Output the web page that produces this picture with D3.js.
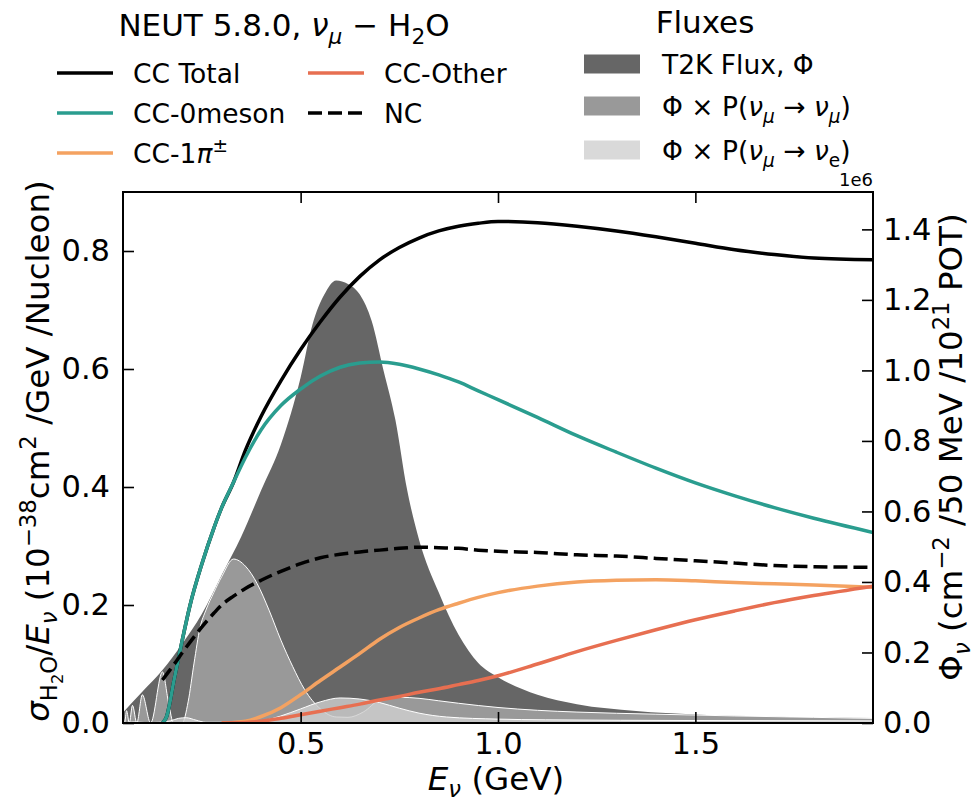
<!DOCTYPE html>
<html>
<head>
<meta charset="utf-8">
<script src="https://d3js.org/d3.v7.min.js"></script>
<style>
  body { margin: 0; background: #fff; }
  svg text { font-family: 'DejaVu Sans', sans-serif; fill: #000; white-space: pre; }
</style>
</head>
<body>
<svg id="chart"></svg>
<script>
// cross sections, 1e-38 cm^2 / GeV / nucleon
const xsecEnergy = [0.15, 0.16, 0.18, 0.20, 0.22, 0.25, 0.28, 0.30, 0.33, 0.36, 0.40, 0.45, 0.50, 0.55, 0.60, 0.65, 0.70, 0.75, 0.80, 0.85, 0.90, 0.95, 1.00, 1.10, 1.20, 1.30, 1.40, 1.50, 1.60, 1.70, 1.80, 1.95];
const ccTotal = [0.0, 0.01, 0.075, 0.14, 0.2, 0.27, 0.33, 0.365, 0.408, 0.462, 0.52, 0.58, 0.633, 0.68, 0.722, 0.757, 0.785, 0.806, 0.822, 0.834, 0.842, 0.847, 0.85, 0.848, 0.842, 0.834, 0.824, 0.813, 0.802, 0.794, 0.788, 0.785];
const cc0meson = [0.0, 0.01, 0.075, 0.14, 0.2, 0.27, 0.33, 0.365, 0.408, 0.45, 0.497, 0.538, 0.566, 0.588, 0.603, 0.61, 0.612, 0.608, 0.60, 0.59, 0.578, 0.563, 0.548, 0.518, 0.487, 0.459, 0.432, 0.407, 0.385, 0.365, 0.347, 0.323];
const cc1pi = [null, null, null, null, null, null, null, 0, 0.001, 0.003, 0.011, 0.026, 0.048, 0.072, 0.095, 0.118, 0.142, 0.162, 0.178, 0.192, 0.203, 0.213, 0.221, 0.232, 0.239, 0.242, 0.243, 0.241, 0.238, 0.236, 0.234, 0.23];
const ccOther = [null, null, null, null, null, null, null, 0, 0.0003, 0.001, 0.003, 0.008, 0.014, 0.02, 0.026, 0.032, 0.039, 0.045, 0.052, 0.058, 0.065, 0.072, 0.08, 0.1, 0.121, 0.14, 0.158, 0.175, 0.19, 0.204, 0.216, 0.232];
const ncTotal = [0.073, 0.082, 0.10, 0.119, 0.137, 0.163, 0.186, 0.2, 0.215, 0.228, 0.242, 0.257, 0.27, 0.28, 0.286, 0.29, 0.293, 0.296, 0.298, 0.297, 0.296, 0.293, 0.291, 0.289, 0.285, 0.283, 0.279, 0.275, 0.271, 0.267, 0.265, 0.264];

// fluxes, 1e6 / cm^2 / 50 MeV / 1e21 POT
const fluxEnergy = [0.05, 0.10, 0.15, 0.20, 0.25, 0.30, 0.35, 0.40, 0.45, 0.50, 0.53, 0.56, 0.59, 0.62, 0.65, 0.68, 0.71, 0.74, 0.77, 0.80, 0.85, 0.90, 0.95, 1.00, 1.10, 1.20, 1.35, 1.50, 1.70, 1.95];
const fluxT2K = [0.03, 0.09, 0.15, 0.225, 0.31, 0.42, 0.53, 0.66, 0.79, 0.98, 1.13, 1.215, 1.255, 1.245, 1.215, 1.14, 1.00, 0.86, 0.66, 0.52, 0.37, 0.25, 0.17, 0.13, 0.08, 0.053, 0.034, 0.024, 0.018, 0.014];
const numuEnergy = [0.05, 0.054, 0.059, 0.066, 0.074, 0.085, 0.099, 0.12, 0.15, 0.165, 0.178, 0.20, 0.215, 0.23, 0.245, 0.26, 0.28, 0.30, 0.33, 0.36, 0.39, 0.42, 0.45, 0.48, 0.51, 0.55, 0.59, 0.62, 0.66, 0.70, 0.75, 0.80, 0.85, 0.90, 1.00, 1.10, 1.20, 1.40, 1.60, 1.80, 1.95];
const fluxNumu = [0.025, 0.0, 0.035, 0.0, 0.05, 0.0, 0.08, 0.0, 0.145, 0.06, 0.0, 0.0, 0.06, 0.17, 0.27, 0.32, 0.37, 0.415, 0.465, 0.445, 0.395, 0.32, 0.235, 0.16, 0.095, 0.04, 0.017, 0.016, 0.032, 0.065, 0.073, 0.07, 0.063, 0.056, 0.044, 0.036, 0.031, 0.025, 0.020, 0.016, 0.013];
const nueEnergy = [0.05, 0.08, 0.11, 0.14, 0.17, 0.19, 0.21, 0.235, 0.26, 0.30, 0.35, 0.40, 0.45, 0.50, 0.55, 0.60, 0.65, 0.70, 0.75, 0.80, 0.87, 1.00, 1.12, 1.50, 1.95];
const fluxNue = [0.0, 0.003, 0.001, 0.002, 0.006, 0.013, 0.015, 0.008, 0.002, 0.002, 0.003, 0.006, 0.02, 0.04, 0.06, 0.071, 0.068, 0.058, 0.042, 0.028, 0.017, 0.011, 0.009, 0.007, 0.006];

const xTicks = [0.5, 1.0, 1.5];
const xsecTicks = [0.0, 0.2, 0.4, 0.6, 0.8];
const fluxTicks = [0.0, 0.2, 0.4, 0.6, 0.8, 1.0, 1.2, 1.4];

const it = {italic: true};
const sub = {shift: 0.25, scale: 0.7};
const subIt = {shift: 0.25, scale: 0.7, italic: true};
const subSub = {shift: 0.42, scale: 0.5};
const sup = {shift: -0.4, scale: 0.7};

// mathtext-ish labels made of tspans
function appendMath(textSel, parts, size) {
  let prevShift = 0;
  parts.forEach(([str, opt = {}]) => {
    const shift = (opt.shift || 0) * size;
    textSel.append('tspan')
      .attr('dy', shift - prevShift)
      .attr('font-size', size * (opt.scale || 1))
      .attr('font-style', opt.italic ? 'italic' : null)
      .text(str);
    prevShift = shift;
  });
}

class XsecFluxPlot {
  constructor(_config) {
    this.config = {
      parentElement: _config.parentElement,
      containerWidth: _config.containerWidth || 975,
      containerHeight: _config.containerHeight || 802,
      margin: _config.margin || {top: 192, right: 102, bottom: 79, left: 123},
      tickFontSize: _config.tickFontSize || 30.5,
      labelFontSize: _config.labelFontSize || 32.5,
      titleFontSize: _config.titleFontSize || 31,
      legendFontSize: _config.legendFontSize || 26.5,
      tickLength: 11
    };
    this.initVis();
  }

  initVis() {
    let vis = this;

    vis.width = vis.config.containerWidth - vis.config.margin.left - vis.config.margin.right;
    vis.height = vis.config.containerHeight - vis.config.margin.top - vis.config.margin.bottom;

    vis.xScale = d3.scaleLinear().range([0, vis.width]);
    vis.yScale = d3.scaleLinear().range([vis.height, 0]);
    vis.yFluxScale = d3.scaleLinear().range([vis.height, 0]);

    const tl = -vis.config.tickLength;
    vis.xAxis = d3.axisBottom(vis.xScale).tickValues(xTicks).tickSizeInner(tl).tickSizeOuter(0)
        .tickPadding(9).tickFormat(d3.format('.1f'));
    vis.xAxisTop = d3.axisTop(vis.xScale).tickValues(xTicks).tickSizeInner(tl).tickSizeOuter(0)
        .tickFormat('');
    vis.yAxis = d3.axisLeft(vis.yScale).tickValues(xsecTicks).tickSizeInner(tl).tickSizeOuter(0)
        .tickPadding(13).tickFormat(d3.format('.1f'));
    vis.yAxisRight = d3.axisRight(vis.yFluxScale).tickValues(fluxTicks).tickSizeInner(tl).tickSizeOuter(0)
        .tickPadding(10).tickFormat(d3.format('.1f'));

    vis.svg = d3.select(vis.config.parentElement)
        .attr('width', vis.config.containerWidth)
        .attr('height', vis.config.containerHeight);

    vis.svg.append('defs').append('clipPath')
        .attr('id', 'plot-clip')
      .append('rect')
        .attr('width', vis.width)
        .attr('height', vis.height);

    vis.chart = vis.svg.append('g')
        .attr('transform', `translate(${vis.config.margin.left},${vis.config.margin.top})`);

    vis.fluxG = vis.chart.append('g').attr('clip-path', 'url(#plot-clip)');
    vis.linesG = vis.chart.append('g').attr('clip-path', 'url(#plot-clip)');

    vis.xAxisG = vis.chart.append('g').attr('class', 'axis x-axis')
        .attr('transform', `translate(0,${vis.height})`);
    vis.xAxisTopG = vis.chart.append('g').attr('class', 'axis x-axis-top');
    vis.yAxisG = vis.chart.append('g').attr('class', 'axis y-axis');
    vis.yAxisRightG = vis.chart.append('g').attr('class', 'axis y-axis-right')
        .attr('transform', `translate(${vis.width},0)`);
  }

  updateVis() {
    let vis = this;

    vis.lineSeries = [
      {key: 'CC Total', values: ccTotal, color: '#000000', dash: null},
      {key: 'CC-0meson', values: cc0meson, color: '#2a9d8f', dash: null},
      {key: 'CC-1pi', values: cc1pi, color: '#f4a261', dash: null},
      {key: 'CC-Other', values: ccOther, color: '#e76f51', dash: null},
      {key: 'NC', values: ncTotal, color: '#000000', dash: '14,6'}
    ].map(s => ({
      ...s,
      points: xsecEnergy.map((e, i) => ({e: e, v: s.values[i]})).filter(d => d.v !== null)
    }));

    vis.fluxSeries = [
      {key: 'T2K', energy: fluxEnergy, values: fluxT2K, fill: '#666666', opacity: 1, edge: null},
      {key: 'numu', energy: numuEnergy, values: fluxNumu, fill: '#999999', opacity: 1, edge: '#ffffff'},
      {key: 'nue', energy: nueEnergy, values: fluxNue, fill: '#cfcfcf', opacity: 0.8, edge: '#ffffff'}
    ].map(s => ({
      ...s,
      points: s.energy.map((e, i) => ({e: e, v: s.values[i]}))
    }));

    vis.xScale.domain(d3.extent(fluxEnergy));
    vis.yScale.domain([0, 0.9]);
    vis.yFluxScale.domain([0, d3.max(fluxT2K) * 1.2]);

    vis.renderVis();
  }

  renderVis() {
    let vis = this;
    const tfs = vis.config.tickFontSize;
    const fs = vis.config.labelFontSize;
    const lfs = vis.config.legendFontSize;

    const area = d3.area()
        .x(d => vis.xScale(d.e))
        .y0(vis.yFluxScale(0))
        .y1(d => vis.yFluxScale(d.v))
        .curve(d3.curveMonotoneX);
    const edge = d3.line()
        .x(d => vis.xScale(d.e))
        .y(d => vis.yFluxScale(d.v))
        .curve(d3.curveMonotoneX);

    vis.fluxSeries.forEach(s => {
      vis.fluxG.append('path')
          .datum(s.points)
          .attr('d', area)
          .attr('fill', s.fill)
          .attr('fill-opacity', s.opacity);
      if (s.edge) {
        vis.fluxG.append('path')
            .datum(s.points)
            .attr('d', edge)
            .attr('fill', 'none')
            .attr('stroke', s.edge)
            .attr('stroke-width', 1);
      }
    });

    const line = d3.line()
        .x(d => vis.xScale(d.e))
        .y(d => vis.yScale(d.v))
        .curve(d3.curveMonotoneX);

    vis.linesG.selectAll('.xsec')
        .data(vis.lineSeries, d => d.key)
      .join('path')
        .attr('class', 'xsec')
        .attr('d', d => line(d.points))
        .attr('fill', 'none')
        .attr('stroke', d => d.color)
        .attr('stroke-width', 3.5)
        .attr('stroke-dasharray', d => d.dash);

    // axes
    [vis.xAxisG.call(vis.xAxis), vis.xAxisTopG.call(vis.xAxisTop),
     vis.yAxisG.call(vis.yAxis), vis.yAxisRightG.call(vis.yAxisRight)].forEach(g => {
      g.attr('font-size', tfs).attr('font-family', 'DejaVu Sans');
      g.select('.domain').remove();
      g.selectAll('.tick line').attr('stroke-width', 1.6);
    });

    vis.chart.append('rect')
        .attr('width', vis.width)
        .attr('height', vis.height)
        .attr('fill', 'none')
        .attr('stroke', '#000')
        .attr('stroke-width', 2);

    vis.chart.append('text')
        .attr('x', vis.width)
        .attr('y', -6)
        .attr('text-anchor', 'end')
        .attr('font-size', 18)
        .text('1e6');

    // axis labels
    const xLabel = vis.chart.append('text')
        .attr('x', vis.width / 2 - 2)
        .attr('y', vis.height + 67)
        .attr('text-anchor', 'middle');
    appendMath(xLabel, [['E', it], ['ν', {shift: 0.2, scale: 0.7, italic: true}], [' (GeV)']], fs);

    const yLabel = vis.svg.append('text')
        .attr('transform', 'translate(49,451) rotate(-90)')
        .attr('text-anchor', 'middle');
    appendMath(yLabel, [['σ', it], ['H', sub], ['2', subSub], ['O', sub], ['/'], ['E', it], ['ν', subIt],
      [' (10'], ['−38', sup], ['cm'], ['2', sup], [' /GeV /Nucleon)']], fs);

    const yLabelRight = vis.svg.append('text')
        .attr('transform', 'translate(962,447) rotate(-90)')
        .attr('text-anchor', 'middle');
    appendMath(yLabelRight, [['Φ'], ['ν', subIt], [' (cm'], ['−2', sup], [' /50 MeV /10'], ['21', sup], [' POT)']], fs);

    // cross-section legend
    const title = vis.svg.append('text')
        .attr('x', 284).attr('y', 36)
        .attr('text-anchor', 'middle');
    appendMath(title, [['NEUT 5.8.0, '], ['ν', it], ['μ', subIt], [' − H'], ['2', sub], ['O']], vis.config.titleFontSize);

    const legendItems = [
      {series: vis.lineSeries[0], x: 57, y: 73, label: [['CC Total']]},
      {series: vis.lineSeries[1], x: 57, y: 113, label: [['CC-0meson']]},
      {series: vis.lineSeries[2], x: 57, y: 153, label: [['CC-1'], ['π', it], ['±', sup]]},
      {series: vis.lineSeries[3], x: 308, y: 73, label: [['CC-Other']]},
      {series: vis.lineSeries[4], x: 308, y: 113, label: [['NC']]}
    ];
    legendItems.forEach(item => {
      vis.svg.append('line')
          .attr('x1', item.x).attr('x2', item.x + 56)
          .attr('y1', item.y).attr('y2', item.y)
          .attr('stroke', item.series.color)
          .attr('stroke-width', 3.5)
          .attr('stroke-dasharray', item.series.dash);
      const t = vis.svg.append('text')
          .attr('x', item.x + 76)
          .attr('y', item.y + 10);
      appendMath(t, item.label, lfs);
    });

    // flux legend
    vis.svg.append('text')
        .attr('x', 705).attr('y', 33)
        .attr('text-anchor', 'middle')
        .attr('font-size', vis.config.titleFontSize)
        .text('Fluxes');

    const fluxLegend = [
      {series: vis.fluxSeries[0], y: 64, label: [['T2K Flux, Φ']]},
      {series: vis.fluxSeries[1], y: 106, label: [['Φ × P('], ['ν', it], ['μ', subIt], [' → '], ['ν', it], ['μ', subIt], [')']]},
      {series: vis.fluxSeries[2], y: 150, label: [['Φ × P('], ['ν', it], ['μ', subIt], [' → '], ['ν', it], ['e', sub], [')']]}
    ];
    fluxLegend.forEach(item => {
      vis.svg.append('rect')
          .attr('x', 584).attr('y', item.y - 9.5)
          .attr('width', 56).attr('height', 19)
          .attr('fill', item.series.fill)
          .attr('fill-opacity', item.series.opacity);
      const t = vis.svg.append('text')
          .attr('x', 662)
          .attr('y', item.y + 10);
      appendMath(t, item.label, lfs);
    });
  }
}

const plot = new XsecFluxPlot({parentElement: '#chart'});
plot.updateVis();
</script>
</body>
</html>
